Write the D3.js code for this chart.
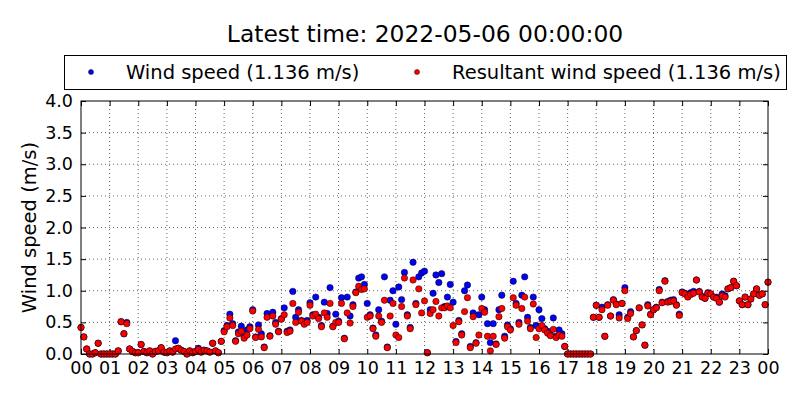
<!DOCTYPE html>
<html>
<head>
<meta charset="utf-8">
<script src="https://cdn.jsdelivr.net/npm/d3@7"></script>
<style>
  body { margin: 0; background: #fff; }
  svg { font-family: "DejaVu Sans", sans-serif; }
</style>
</head>
<body>
<svg id="chart" width="800" height="400"></svg>
<script>
// one sample every 6 minutes, 00:00 .. 24:00
const stepMinutes = 6;

const windSpeed = [
  0.42, 0.27, 0.08, 0.00, 0.00, 0.02, 0.17, 0.00, 0.00, 0.00, // 00
  0.00, 0.00, 0.00, 0.05, 0.51, 0.32, 0.50, 0.08, 0.04, 0.02, // 01
  0.02, 0.15, 0.04, 0.02, 0.05, 0.00, 0.04, 0.05, 0.10, 0.03, // 02
  0.02, 0.05, 0.03, 0.21, 0.09, 0.06, 0.04, 0.00, 0.05, 0.02, // 03
  0.04, 0.09, 0.03, 0.06, 0.05, 0.03, 0.17, 0.05, 0.02, 0.20, // 04
  0.37, 0.45, 0.63, 0.48, 0.21, 0.35, 0.44, 0.27, 0.38, 0.43, // 05
  0.70, 0.27, 0.46, 0.32, 0.11, 0.64, 0.29, 0.66, 0.50, 0.36, // 06
  0.56, 0.73, 0.36, 0.38, 0.99, 0.58, 0.70, 0.53, 0.51, 0.53, // 07
  0.81, 0.62, 0.90, 0.58, 0.45, 0.82, 0.64, 1.05, 0.44, 0.63, // 08
  0.52, 0.89, 0.25, 0.90, 0.60, 0.78, 0.98, 1.20, 1.22, 1.10, // 09
  0.80, 0.62, 0.41, 0.30, 0.70, 0.52, 1.22, 0.11, 0.85, 1.00, // 10
  0.47, 1.06, 0.86, 1.29, 0.62, 0.42, 1.45, 0.80, 1.22, 1.28, // 11
  1.31, 0.02, 0.70, 0.96, 1.25, 1.13, 1.27, 0.75, 0.90, 1.10, // 12
  0.82, 0.20, 0.53, 0.32, 1.00, 1.09, 0.12, 0.65, 0.18, 0.62, // 13
  0.90, 0.70, 0.48, 0.18, 0.48, 0.16, 0.70, 0.93, 0.28, 0.46, // 14
  0.40, 1.15, 0.80, 0.50, 0.93, 1.22, 0.58, 0.42, 0.90, 0.45, // 15
  0.70, 0.56, 0.40, 0.36, 0.30, 0.57, 0.28, 0.38, 0.32, 0.12, // 16
  0.00, 0.00, 0.00, 0.00, 0.00, 0.00, 0.00, 0.00, 0.00, 0.58, // 17
  0.77, 0.58, 0.74, 0.28, 0.78, 0.60, 0.86, 0.79, 0.62, 0.80, // 18
  1.05, 0.58, 0.67, 0.27, 0.37, 0.73, 0.46, 0.14, 0.78, 0.63, // 19
  0.70, 0.74, 1.02, 0.82, 1.16, 0.83, 0.85, 0.86, 0.78, 0.63, // 20
  0.98, 0.96, 0.91, 0.97, 0.99, 1.17, 0.99, 0.91, 0.88, 0.97, // 21
  0.95, 0.90, 0.90, 0.82, 0.95, 0.92, 1.03, 1.05, 1.15, 1.08, // 22
  0.84, 0.78, 0.90, 0.78, 0.87, 0.95, 1.03, 0.93, 0.95, 0.78, // 23
  1.136
];

const resultantSpeed = [
  0.42, 0.27, 0.08, 0.00, 0.00, 0.02, 0.17, 0.00, 0.00, 0.00, // 00
  0.00, 0.00, 0.00, 0.05, 0.51, 0.32, 0.48, 0.08, 0.04, 0.02, // 01
  0.02, 0.15, 0.04, 0.02, 0.05, 0.00, 0.04, 0.05, 0.10, 0.03, // 02
  0.02, 0.05, 0.03, 0.08, 0.09, 0.06, 0.04, 0.00, 0.05, 0.02, // 03
  0.04, 0.07, 0.03, 0.06, 0.05, 0.03, 0.17, 0.05, 0.02, 0.20, // 04
  0.35, 0.43, 0.57, 0.45, 0.20, 0.32, 0.36, 0.25, 0.30, 0.40, // 05
  0.68, 0.26, 0.39, 0.27, 0.10, 0.58, 0.28, 0.60, 0.47, 0.35, // 06
  0.55, 0.62, 0.34, 0.36, 0.80, 0.50, 0.66, 0.52, 0.47, 0.50, // 07
  0.77, 0.60, 0.63, 0.56, 0.43, 0.65, 0.58, 0.80, 0.43, 0.50, // 08
  0.50, 0.80, 0.24, 0.65, 0.49, 0.75, 0.97, 1.07, 1.02, 1.03, // 09
  0.58, 0.60, 0.40, 0.28, 0.60, 0.50, 0.85, 0.10, 0.60, 0.80, // 10
  0.30, 0.26, 0.75, 1.20, 0.60, 0.40, 1.17, 0.78, 1.03, 0.65, // 11
  0.84, 0.02, 0.64, 0.70, 0.83, 0.60, 0.73, 0.73, 0.76, 0.73, // 12
  0.45, 0.18, 0.51, 0.30, 0.67, 0.89, 0.10, 0.59, 0.17, 0.30, // 13
  0.72, 0.66, 0.28, 0.05, 0.28, 0.15, 0.59, 0.72, 0.25, 0.43, // 14
  0.38, 0.89, 0.77, 0.47, 0.72, 0.90, 0.52, 0.40, 0.79, 0.26, // 15
  0.40, 0.45, 0.38, 0.33, 0.29, 0.39, 0.26, 0.30, 0.28, 0.12, // 16
  0.00, 0.00, 0.00, 0.00, 0.00, 0.00, 0.00, 0.00, 0.00, 0.58, // 17
  0.77, 0.58, 0.70, 0.28, 0.77, 0.60, 0.85, 0.78, 0.57, 0.80, // 18
  1.00, 0.56, 0.64, 0.27, 0.37, 0.73, 0.46, 0.14, 0.76, 0.62, // 19
  0.70, 0.73, 1.00, 0.81, 1.15, 0.82, 0.83, 0.84, 0.77, 0.61, // 20
  0.97, 0.95, 0.90, 0.94, 0.96, 1.17, 0.98, 0.90, 0.88, 0.96, // 21
  0.95, 0.90, 0.88, 0.82, 0.92, 0.90, 1.03, 1.05, 1.15, 1.08, // 22
  0.84, 0.78, 0.90, 0.78, 0.87, 0.95, 1.03, 0.93, 0.95, 0.78, // 23
  1.136
];

const hourTicks = d3.range(0, 25);
const hourLabels = ['00','01','02','03','04','05','06','07','08','09','10','11',
  '12','13','14','15','16','17','18','19','20','21','22','23','00'];
const yTicks = [0, 0.5, 1.0, 1.5, 2.0, 2.5, 3.0, 3.5, 4.0];

const titleText = 'Latest time: 2022-05-06 00:00:00';
const seriesNames = ['Wind speed (1.136 m/s)', 'Resultant wind speed (1.136 m/s)'];
const seriesColors = ['#0000ff', '#ff0000'];

const margin = { top: 101, right: 32, bottom: 46, left: 81 };
const width = 800 - margin.left - margin.right;
const height = 400 - margin.top - margin.bottom;

const svg = d3.select('#chart');

const x = d3.scaleLinear().domain([0, 24]).range([0, width]);
const y = d3.scaleLinear().domain([0, 4]).range([height, 0]);

svg.append('text')
  .attr('x', 425).attr('y', 42)
  .attr('text-anchor', 'middle')
  .attr('font-size', '23.4px')
  .text(titleText);

// legend
const legend = svg.append('g');
legend.append('rect')
  .attr('x', 64.5).attr('y', 55.5).attr('width', 722).attr('height', 34)
  .attr('fill', '#fff').attr('stroke', '#000').attr('stroke-width', 1);
const legendX = [91, 417];
seriesNames.forEach((name, i) => {
  legend.append('circle')
    .attr('cx', legendX[i]).attr('cy', 72).attr('r', 2.5)
    .attr('fill', seriesColors[i]).attr('stroke', '#000').attr('stroke-width', 0.5);
  legend.append('text')
    .attr('x', legendX[i] + 35).attr('y', 79)
    .attr('font-size', '19.5px')
    .text(name);
});

const chart = svg.append('g').attr('transform', `translate(${margin.left},${margin.top})`);

// dotted grid
chart.append('g')
  .selectAll('line')
  .data(hourTicks.slice(1, -1))
  .join('line')
  .attr('x1', d => x(d)).attr('x2', d => x(d))
  .attr('y1', 0).attr('y2', height)
  .attr('stroke', '#000').attr('stroke-width', 0.6).attr('stroke-dasharray', '1,3');
chart.append('g')
  .selectAll('line')
  .data(yTicks.slice(1, -1))
  .join('line')
  .attr('x1', 0).attr('x2', width)
  .attr('y1', d => y(d)).attr('y2', d => y(d))
  .attr('stroke', '#000').attr('stroke-width', 0.6).attr('stroke-dasharray', '1,3');

// axes with inward ticks
const xAxis = d3.axisBottom(x).tickValues(hourTicks)
  .tickFormat((d, i) => hourLabels[i]).tickSizeInner(-5).tickSizeOuter(0).tickPadding(8);
chart.append('g')
  .attr('transform', `translate(0,${height})`)
  .call(xAxis)
  .call(g => g.select('.domain').remove())
  .selectAll('text').attr('font-size', '17.5px').attr('fill', '#000').attr('font-family', 'DejaVu Sans');

chart.append('g')
  .call(d3.axisTop(x).tickValues(hourTicks).tickFormat('').tickSizeInner(-5).tickSizeOuter(0))
  .call(g => g.select('.domain').remove());

const yAxis = d3.axisLeft(y).tickValues(yTicks)
  .tickFormat(d3.format('.1f')).tickSizeInner(-5).tickSizeOuter(0).tickPadding(8);
chart.append('g')
  .call(yAxis)
  .call(g => g.select('.domain').remove())
  .selectAll('text').attr('font-size', '17.5px').attr('fill', '#000').attr('font-family', 'DejaVu Sans');

chart.append('g')
  .attr('transform', `translate(${width},0)`)
  .call(d3.axisRight(y).tickValues(yTicks).tickFormat('').tickSizeInner(-5).tickSizeOuter(0))
  .call(g => g.select('.domain').remove());

svg.append('text')
  .attr('transform', `translate(36,${margin.top + height / 2}) rotate(-90)`)
  .attr('text-anchor', 'middle')
  .attr('font-size', '19.5px')
  .text('Wind speed (m/s)');

// points: wind speed first, resultant drawn on top
[windSpeed, resultantSpeed].forEach((series, s) => {
  chart.append('g')
    .selectAll('circle')
    .data(series)
    .join('circle')
    .attr('cx', (d, i) => x(i * stepMinutes / 60))
    .attr('cy', d => y(d))
    .attr('r', 3.2)
    .attr('fill', seriesColors[s])
    .attr('stroke', '#000')
    .attr('stroke-width', 0.5);
});

// frame
chart.append('rect')
  .attr('x', 0).attr('y', 0).attr('width', width).attr('height', height)
  .attr('fill', 'none').attr('stroke', '#000').attr('stroke-width', 1);
</script>
</body>
</html>
